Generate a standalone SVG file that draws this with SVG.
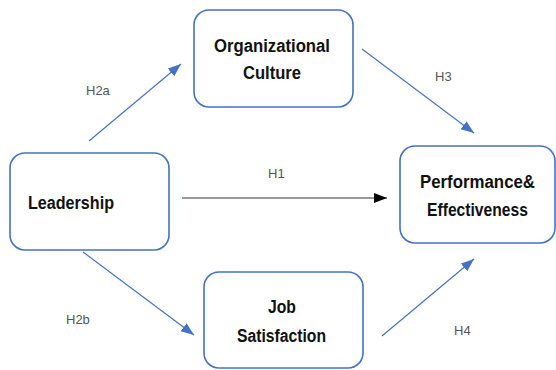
<svg xmlns="http://www.w3.org/2000/svg" width="556" height="370" viewBox="0 0 556 370">
<defs>
<style>
.box{fill:#fff;stroke:#4472c4;stroke-width:1.6}
.t{font-family:"Liberation Sans",Arial,sans-serif;font-size:18px;font-weight:bold;fill:#111}
.lab{font-family:"Liberation Sans",Arial,sans-serif;font-size:13px;fill:#555}
.blue{stroke:#4472c4;stroke-width:1.2;fill:none;marker-end:url(#ab)}
.black{stroke:#333;stroke-width:1.2;fill:none;marker-end:url(#ak)}
</style>
<marker id="ab" markerUnits="userSpaceOnUse" markerWidth="14" markerHeight="12" refX="13" refY="5" orient="auto"><path d="M0,0 L13,5 L0,10 Z" fill="#4472c4"/></marker>
<marker id="ak" markerUnits="userSpaceOnUse" markerWidth="14" markerHeight="12" refX="13" refY="5" orient="auto"><path d="M0,0 L13,5 L0,10 Z" fill="#000"/></marker>
</defs>
<rect width="556" height="370" fill="#fff"/>
<g id="connectors">
<line class="blue" x1="89" y1="141" x2="181" y2="64"/>
<line class="blue" x1="362" y1="49" x2="474" y2="133"/>
<line class="black" x1="182" y1="198" x2="387" y2="198"/>
<line class="blue" x1="83" y1="252" x2="194" y2="335"/>
<line class="blue" x1="382" y1="336" x2="474" y2="259"/>
<text class="lab" x="86" y="95">H2a</text>
<text class="lab" x="435" y="81">H3</text>
<text class="lab" x="268" y="178">H1</text>
<text class="lab" x="66" y="324">H2b</text>
<text class="lab" x="454" y="335">H4</text>
</g>
<g id="leadership">
<rect class="box" x="10" y="153" width="159" height="97" rx="15"/>
<text class="t" x="28" y="209" textLength="86" lengthAdjust="spacingAndGlyphs">Leadership</text>
</g>
<g id="culture">
<rect class="box" x="194" y="10" width="159" height="97" rx="15"/>
<text class="t" x="214" y="52" textLength="116" lengthAdjust="spacingAndGlyphs">Organizational</text>
<text class="t" x="243" y="79" textLength="58" lengthAdjust="spacingAndGlyphs">Culture</text>
</g>
<g id="performance">
<rect class="box" x="400" y="146" width="155" height="97" rx="15"/>
<text class="t" x="420" y="188" textLength="115" lengthAdjust="spacingAndGlyphs">Performance&amp;</text>
<text class="t" x="427" y="216" textLength="101" lengthAdjust="spacingAndGlyphs">Effectiveness</text>
</g>
<g id="satisfaction">
<rect class="box" x="204" y="272" width="159" height="96" rx="15"/>
<text class="t" x="268" y="313" textLength="28" lengthAdjust="spacingAndGlyphs">Job</text>
<text class="t" x="237" y="342" textLength="89" lengthAdjust="spacingAndGlyphs">Satisfaction</text>
</g>
</svg>
